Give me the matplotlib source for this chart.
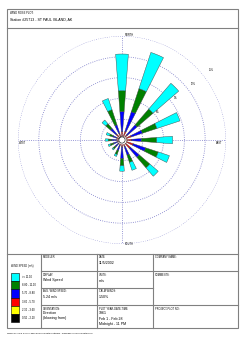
import numpy as np
import matplotlib
matplotlib.use("Agg")
import matplotlib.pyplot as plt
from matplotlib.patches import Rectangle

plt.rcParams['font.family'] = ['Liberation Sans', 'DejaVu Sans']

# directions N, NNE, ... NNW (clockwise), percent of hours per speed class
directions = ['N', 'NNE', 'NE', 'ENE', 'E', 'ESE', 'SE', 'SSE',
              'S', 'SSW', 'SW', 'WSW', 'W', 'WNW', 'NW', 'NNW']
spd_0_5 = [0.1, 0.1, 0.1, 0.2, 0.2, 0.2, 0.2, 0.1, 0.1, 0.1, 0.1, 0.1, 0.1, 0.1, 0.2, 0.1]
spd_2_1 = [0.3, 0.3, 0.3, 0.4, 0.4, 0.5, 0.5, 0.3, 0.3, 0.2, 0.2, 0.2, 0.2, 0.2, 0.3, 0.3]
spd_3_6 = [0.8, 0.9, 0.6, 0.8, 0.8, 1.0, 0.9, 0.6, 0.6, 0.5, 0.4, 0.4, 0.5, 0.5, 0.6, 0.6]
spd_5_7 = [2.9, 3.0, 1.9, 1.7, 1.4, 1.9, 1.7, 1.3, 1.7, 0.8, 0.6, 0.6, 0.7, 0.6, 1.1, 1.3]
spd_8_8 = [3.0, 3.5, 3.0, 2.2, 2.2, 1.9, 2.0, 1.1, 1.0, 0.6, 0.4, 0.5, 0.5, 0.5, 0.9, 2.3]
spd_11_1 = [5.3, 5.5, 4.9, 3.5, 2.3, 1.7, 1.6, 1.2, 0.8, 0.3, 0.2, 0.3, 0.4, 0.5, 0.7, 1.7]

classes = [spd_0_5, spd_2_1, spd_3_6, spd_5_7, spd_8_8, spd_11_1]
class_colors = ['#000000', '#ffff00', '#ff0000', '#0000ff', '#008000', '#00ffff']
class_labels = ['0.50 - 2.10', '2.10 - 3.60', '3.60 - 5.70', '5.70 - 8.80',
                '8.80 - 11.10', '>= 11.10']
rings = [3, 6, 9, 12, 15]

W, H = 244, 338
fig = plt.figure(figsize=(W / 100, H / 100), dpi=100)

# page layout in pixel coords
ax = fig.add_axes([0, 0, 1, 1])
ax.set_xlim(0, W)
ax.set_ylim(H, 0)
ax.axis('off')

gray = '#808080'
lw = 0.8
ax.add_patch(Rectangle((7, 9), 231, 319, fill=False, edgecolor=gray, lw=lw))
ax.plot([7, 238], [28, 28], color=gray, lw=lw)
ax.plot([7, 238], [254, 254], color=gray, lw=lw)
for x in [41, 97, 153]:
    ax.plot([x, x], [254, 328], color=gray, lw=lw)
ax.plot([41, 238], [271, 271], color=gray, lw=lw)
ax.plot([41, 153], [288, 288], color=gray, lw=lw)
ax.plot([41, 238], [305, 305], color=gray, lw=lw)

ax.text(10, 12.5, 'WIND ROSE PLOT:', fontsize=1.9, va='center')
ax.text(10, 19.5, 'Station #25713 - ST PAUL ISLAND, AK', fontsize=2.6, va='center')

lab = dict(fontsize=1.8, va='center')
val = dict(fontsize=2.6, va='center')
ax.text(43, 257.5, 'MODELER:', **lab)
ax.text(43, 274.5, 'DISPLAY:', **lab)
ax.text(43, 280.5, 'Wind Speed', **val)
ax.text(43, 291.5, 'AVG. WIND SPEED:', **lab)
ax.text(43, 297.5, '5.24 m/s', **val)
ax.text(43, 308.5, 'ORIENTATION:', **lab)
ax.text(43, 313.5, 'Direction', **val)
ax.text(43, 318.5, '(blowing from)', **val)
ax.text(99, 257.5, 'DATE:', **lab)
ax.text(99, 262.5, '11/5/2002', **val)
ax.text(99, 274.5, 'UNITS:', **lab)
ax.text(99, 280.5, 'm/s', **val)
ax.text(99, 291.5, 'CALM WINDS:', **lab)
ax.text(99, 297.5, '1.50%', **val)
ax.text(99, 308.5, 'PLOT YEAR-DATE-TIME:', **lab)
ax.text(99, 313.5, '1961', **val)
ax.text(99, 318.5, 'Feb 1 - Feb 28', **val)
ax.text(99, 323.5, 'Midnight - 11 PM', **val)
ax.text(155, 257.5, 'COMPANY NAME:', **lab)
ax.text(155, 274.5, 'COMMENTS:', **lab)
ax.text(155, 308.5, 'PROJECT/PLOT NO.:', **lab)
ax.text(7, 333, 'WRPLOT View 3.5 by Lakes Environmental Software - www.lakes-environmental.com',
        fontsize=1.6, va='center')

# legend
ax.text(11, 266, 'WIND SPEED (m/s)', **lab)
box_h = 8.2
for i, (c, t) in enumerate(zip(class_colors[::-1], class_labels[::-1])):
    y0 = 273 + i * box_h
    ax.add_patch(Rectangle((11, y0), 8, box_h, facecolor=c, edgecolor='black', lw=0.4))
    ax.text(22, y0 + box_h / 2, t, fontsize=1.9, va='center')

# rose
cx, cy, R = 122, 140, 104
pax = fig.add_axes([(cx - R) / W, (H - cy - R) / H, 2 * R / W, 2 * R / H], projection='polar')
pax.set_facecolor('none')
pax.set_theta_zero_location('N')
pax.set_theta_direction(-1)
pax.set_ylim(0, 15)
pax.axis('off')

grid_c = '#7878c8'
t = np.linspace(0, 2 * np.pi, 361)
for r in rings:
    pax.plot(t, np.full_like(t, r), ls=':', color=grid_c, lw=0.6)
    pax.text(np.radians(52), r + r / 15 * 1.4, f'{r}%', fontsize=1.8, ha='center', va='center')
for a in [0, 90, 180, 270]:
    pax.plot([np.radians(a)] * 2, [0, 15], ls=':', color=grid_c, lw=0.6)

theta = np.radians(np.arange(16) * 22.5)
bottom = np.zeros(16)
for vals, c in zip(classes, class_colors):
    pax.bar(theta, vals, width=np.radians(8.5), bottom=bottom, color=c,
            edgecolor='#404040', linewidth=0.3, zorder=3)
    bottom += np.array(vals)

pax.fill_between(t, 0, 0.45, color='white', zorder=4)
pax.plot(t, np.full_like(t, 0.45), color='black', lw=0.4, zorder=5)

ax.text(125, 35, 'NORTH', fontsize=1.8, va='center')
ax.text(125, 244, 'SOUTH', fontsize=1.8, va='center')
ax.text(19, 143, 'WEST', fontsize=1.8, va='center')
ax.text(222, 143, 'EAST', fontsize=1.8, va='center', ha='right')

fig.savefig('out.png', dpi=100)
